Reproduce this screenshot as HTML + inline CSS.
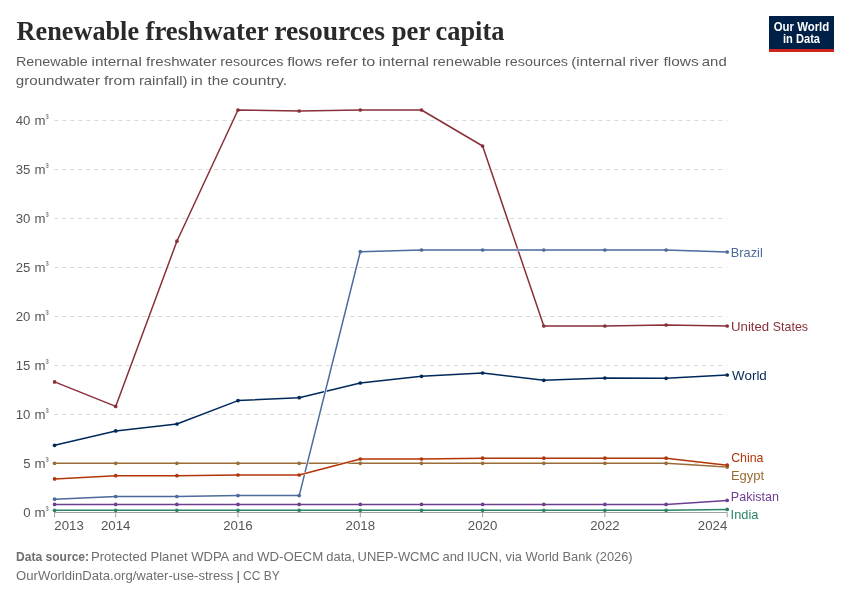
<!DOCTYPE html>
<html lang="en"><head><meta charset="utf-8"><title>Renewable freshwater resources per capita</title>
<style>
html,body{margin:0;padding:0;background:#fff;}
svg{display:block;}
text{font-family:"Liberation Sans",sans-serif;}
.title{font-family:"Liberation Serif",serif;font-weight:bold;font-size:27px;fill:#2a2a2a;}
.sub{font-size:13.3px;fill:#5b5b5b;}
.foot{font-size:13px;fill:#6e6e6e;}
.tick{font-size:13.2px;fill:#555;}
.lab{font-size:13px;}
</style></head><body>
<svg width="850" height="600" viewBox="0 0 850 600">
<rect width="850" height="600" fill="#fff"/>

<text class="title" y="40"><tspan x="16.6" textLength="122.44" lengthAdjust="spacingAndGlyphs">Renewable</tspan> <tspan x="145.5" textLength="122.73" lengthAdjust="spacingAndGlyphs">freshwater</tspan> <tspan x="274.15" textLength="110.93" lengthAdjust="spacingAndGlyphs">resources</tspan> <tspan x="391.7" textLength="38.14" lengthAdjust="spacingAndGlyphs">per</tspan> <tspan x="435.55" textLength="68.79" lengthAdjust="spacingAndGlyphs">capita</tspan></text>
<text class="sub" y="66.2"><tspan x="15.95" textLength="71.83" lengthAdjust="spacingAndGlyphs">Renewable</tspan> <tspan x="91.55" textLength="50.27" lengthAdjust="spacingAndGlyphs">internal</tspan> <tspan x="146.1" textLength="70.32" lengthAdjust="spacingAndGlyphs">freshwater</tspan> <tspan x="220.15" textLength="63.2" lengthAdjust="spacingAndGlyphs">resources</tspan> <tspan x="287.15" textLength="35.21" lengthAdjust="spacingAndGlyphs">flows</tspan> <tspan x="325.95" textLength="32.0" lengthAdjust="spacingAndGlyphs">refer</tspan> <tspan x="361.85" textLength="13.49" lengthAdjust="spacingAndGlyphs">to</tspan> <tspan x="378.75" textLength="50.16" lengthAdjust="spacingAndGlyphs">internal</tspan> <tspan x="432.65" textLength="68.66" lengthAdjust="spacingAndGlyphs">renewable</tspan> <tspan x="505.1" textLength="62.94" lengthAdjust="spacingAndGlyphs">resources</tspan> <tspan x="571.25" textLength="54.52" lengthAdjust="spacingAndGlyphs">(internal</tspan> <tspan x="629.6" textLength="29.27" lengthAdjust="spacingAndGlyphs">river</tspan> <tspan x="663.45" textLength="35.21" lengthAdjust="spacingAndGlyphs">flows</tspan> <tspan x="701.79" textLength="24.9" lengthAdjust="spacingAndGlyphs">and</tspan></text>
<text class="sub" y="84.6"><tspan x="15.8" textLength="84.22" lengthAdjust="spacingAndGlyphs">groundwater</tspan> <tspan x="104.0" textLength="31.33" lengthAdjust="spacingAndGlyphs">from</tspan> <tspan x="138.9" textLength="48.67" lengthAdjust="spacingAndGlyphs">rainfall)</tspan> <tspan x="190.87" textLength="11.9" lengthAdjust="spacingAndGlyphs">in</tspan> <tspan x="207.45" textLength="21.19" lengthAdjust="spacingAndGlyphs">the</tspan> <tspan x="232.35" textLength="54.73" lengthAdjust="spacingAndGlyphs">country.</tspan></text>
<g><rect x="769" y="16" width="65" height="36" fill="#002147"/><rect x="769" y="49" width="65" height="3" fill="#ce261e"/>
<text x="801.5" y="31.1" text-anchor="middle" font-size="12" font-weight="bold" fill="#fff" textLength="55.5" lengthAdjust="spacingAndGlyphs">Our World</text>
<text x="801.5" y="43.1" text-anchor="middle" font-size="12" font-weight="bold" fill="#fff" textLength="37" lengthAdjust="spacingAndGlyphs">in Data</text></g>
<g stroke="#dadada" stroke-width="1" stroke-dasharray="4.2 3.8" fill="none">
<line x1="54.3" x2="727.3" y1="463.5" y2="463.5"/>
<line x1="54.3" x2="727.3" y1="414.5" y2="414.5"/>
<line x1="54.3" x2="727.3" y1="365.5" y2="365.5"/>
<line x1="54.3" x2="727.3" y1="316.5" y2="316.5"/>
<line x1="54.3" x2="727.3" y1="267.5" y2="267.5"/>
<line x1="54.3" x2="727.3" y1="218.5" y2="218.5"/>
<line x1="54.3" x2="727.3" y1="169.5" y2="169.5"/>
<line x1="54.3" x2="727.3" y1="120.5" y2="120.5"/>
</g>
<text class="tick" x="48.9" y="517.2" text-anchor="end" letter-spacing="0.15">0 m<tspan font-size="9.5" dy="-4.6">³</tspan></text>
<text class="tick" x="48.9" y="468.2" text-anchor="end" letter-spacing="0.15">5 m<tspan font-size="9.5" dy="-4.6">³</tspan></text>
<text class="tick" x="48.9" y="419.2" text-anchor="end" letter-spacing="0.15">10 m<tspan font-size="9.5" dy="-4.6">³</tspan></text>
<text class="tick" x="48.9" y="370.2" text-anchor="end" letter-spacing="0.15">15 m<tspan font-size="9.5" dy="-4.6">³</tspan></text>
<text class="tick" x="48.9" y="321.2" text-anchor="end" letter-spacing="0.15">20 m<tspan font-size="9.5" dy="-4.6">³</tspan></text>
<text class="tick" x="48.9" y="272.2" text-anchor="end" letter-spacing="0.15">25 m<tspan font-size="9.5" dy="-4.6">³</tspan></text>
<text class="tick" x="48.9" y="223.2" text-anchor="end" letter-spacing="0.15">30 m<tspan font-size="9.5" dy="-4.6">³</tspan></text>
<text class="tick" x="48.9" y="174.2" text-anchor="end" letter-spacing="0.15">35 m<tspan font-size="9.5" dy="-4.6">³</tspan></text>
<text class="tick" x="48.9" y="125.2" text-anchor="end" letter-spacing="0.15">40 m<tspan font-size="9.5" dy="-4.6">³</tspan></text>
<g stroke="#a0a0a0" stroke-width="1" fill="none">
<line x1="54.3" x2="727.3" y1="512.5" y2="512.5"/>
<line x1="54.6" x2="54.6" y1="512.5" y2="517.3"/>
<line x1="115.7" x2="115.7" y1="512.5" y2="517.3"/>
<line x1="238.0" x2="238.0" y1="512.5" y2="517.3"/>
<line x1="360.3" x2="360.3" y1="512.5" y2="517.3"/>
<line x1="482.6" x2="482.6" y1="512.5" y2="517.3"/>
<line x1="604.9" x2="604.9" y1="512.5" y2="517.3"/>
<line x1="727.2" x2="727.2" y1="512.5" y2="517.3"/>
</g>
<text class="tick" x="54.3" y="530.3" text-anchor="start" textLength="29.5" lengthAdjust="spacingAndGlyphs">2013</text>
<text class="tick" x="115.7" y="530.3" text-anchor="middle" textLength="29.5" lengthAdjust="spacingAndGlyphs">2014</text>
<text class="tick" x="238.0" y="530.3" text-anchor="middle" textLength="29.5" lengthAdjust="spacingAndGlyphs">2016</text>
<text class="tick" x="360.3" y="530.3" text-anchor="middle" textLength="29.5" lengthAdjust="spacingAndGlyphs">2018</text>
<text class="tick" x="482.6" y="530.3" text-anchor="middle" textLength="29.5" lengthAdjust="spacingAndGlyphs">2020</text>
<text class="tick" x="604.9" y="530.3" text-anchor="middle" textLength="29.5" lengthAdjust="spacingAndGlyphs">2022</text>
<text class="tick" x="727.3" y="530.3" text-anchor="end" textLength="29.5" lengthAdjust="spacingAndGlyphs">2024</text>
<g fill="#2C8465" stroke="none"><polyline points="54.6,510.3 115.7,510.3 176.9,510.3 238.0,510.3 299.2,510.3 360.3,510.3 421.5,510.3 482.6,510.3 543.8,510.3 604.9,510.3 666.1,510.3 727.2,509.4" fill="none" stroke="#fff" stroke-width="2.5" stroke-linejoin="round" stroke-linecap="butt"/><polyline points="54.6,510.3 115.7,510.3 176.9,510.3 238.0,510.3 299.2,510.3 360.3,510.3 421.5,510.3 482.6,510.3 543.8,510.3 604.9,510.3 666.1,510.3 727.2,509.4" fill="none" stroke="#2C8465" stroke-width="1.5" stroke-linejoin="round" stroke-linecap="round"/>
<circle cx="54.6" cy="510.3" r="1.85"/>
<circle cx="115.7" cy="510.3" r="1.85"/>
<circle cx="176.9" cy="510.3" r="1.85"/>
<circle cx="238.0" cy="510.3" r="1.85"/>
<circle cx="299.2" cy="510.3" r="1.85"/>
<circle cx="360.3" cy="510.3" r="1.85"/>
<circle cx="421.5" cy="510.3" r="1.85"/>
<circle cx="482.6" cy="510.3" r="1.85"/>
<circle cx="543.8" cy="510.3" r="1.85"/>
<circle cx="604.9" cy="510.3" r="1.85"/>
<circle cx="666.1" cy="510.3" r="1.85"/>
<circle cx="727.2" cy="509.4" r="1.85"/>
</g>
<g fill="#6D3E91" stroke="none"><polyline points="54.6,504.4 115.7,504.4 176.9,504.4 238.0,504.4 299.2,504.4 360.3,504.4 421.5,504.4 482.6,504.4 543.8,504.4 604.9,504.4 666.1,504.4 727.2,500.4" fill="none" stroke="#fff" stroke-width="2.5" stroke-linejoin="round" stroke-linecap="butt"/><polyline points="54.6,504.4 115.7,504.4 176.9,504.4 238.0,504.4 299.2,504.4 360.3,504.4 421.5,504.4 482.6,504.4 543.8,504.4 604.9,504.4 666.1,504.4 727.2,500.4" fill="none" stroke="#6D3E91" stroke-width="1.5" stroke-linejoin="round" stroke-linecap="round"/>
<circle cx="54.6" cy="504.4" r="1.85"/>
<circle cx="115.7" cy="504.4" r="1.85"/>
<circle cx="176.9" cy="504.4" r="1.85"/>
<circle cx="238.0" cy="504.4" r="1.85"/>
<circle cx="299.2" cy="504.4" r="1.85"/>
<circle cx="360.3" cy="504.4" r="1.85"/>
<circle cx="421.5" cy="504.4" r="1.85"/>
<circle cx="482.6" cy="504.4" r="1.85"/>
<circle cx="543.8" cy="504.4" r="1.85"/>
<circle cx="604.9" cy="504.4" r="1.85"/>
<circle cx="666.1" cy="504.4" r="1.85"/>
<circle cx="727.2" cy="500.4" r="1.85"/>
</g>
<g fill="#996D39" stroke="none"><polyline points="54.6,463.3 115.7,463.3 176.9,463.3 238.0,463.3 299.2,463.3 360.3,463.3 421.5,463.3 482.6,463.3 543.8,463.3 604.9,463.3 666.1,463.3 727.2,467.1" fill="none" stroke="#fff" stroke-width="2.5" stroke-linejoin="round" stroke-linecap="butt"/><polyline points="54.6,463.3 115.7,463.3 176.9,463.3 238.0,463.3 299.2,463.3 360.3,463.3 421.5,463.3 482.6,463.3 543.8,463.3 604.9,463.3 666.1,463.3 727.2,467.1" fill="none" stroke="#996D39" stroke-width="1.5" stroke-linejoin="round" stroke-linecap="round"/>
<circle cx="54.6" cy="463.3" r="1.85"/>
<circle cx="115.7" cy="463.3" r="1.85"/>
<circle cx="176.9" cy="463.3" r="1.85"/>
<circle cx="238.0" cy="463.3" r="1.85"/>
<circle cx="299.2" cy="463.3" r="1.85"/>
<circle cx="360.3" cy="463.3" r="1.85"/>
<circle cx="421.5" cy="463.3" r="1.85"/>
<circle cx="482.6" cy="463.3" r="1.85"/>
<circle cx="543.8" cy="463.3" r="1.85"/>
<circle cx="604.9" cy="463.3" r="1.85"/>
<circle cx="666.1" cy="463.3" r="1.85"/>
<circle cx="727.2" cy="467.1" r="1.85"/>
</g>
<g fill="#00295B" stroke="none"><polyline points="54.6,445.3 115.7,430.9 176.9,424.0 238.0,400.6 299.2,397.7 360.3,383.0 421.5,376.3 482.6,373.0 543.8,380.3 604.9,378.0 666.1,378.3 727.2,375.0" fill="none" stroke="#fff" stroke-width="2.5" stroke-linejoin="round" stroke-linecap="butt"/><polyline points="54.6,445.3 115.7,430.9 176.9,424.0 238.0,400.6 299.2,397.7 360.3,383.0 421.5,376.3 482.6,373.0 543.8,380.3 604.9,378.0 666.1,378.3 727.2,375.0" fill="none" stroke="#00295B" stroke-width="1.5" stroke-linejoin="round" stroke-linecap="round"/>
<circle cx="54.6" cy="445.3" r="1.85"/>
<circle cx="115.7" cy="430.9" r="1.85"/>
<circle cx="176.9" cy="424.0" r="1.85"/>
<circle cx="238.0" cy="400.6" r="1.85"/>
<circle cx="299.2" cy="397.7" r="1.85"/>
<circle cx="360.3" cy="383.0" r="1.85"/>
<circle cx="421.5" cy="376.3" r="1.85"/>
<circle cx="482.6" cy="373.0" r="1.85"/>
<circle cx="543.8" cy="380.3" r="1.85"/>
<circle cx="604.9" cy="378.0" r="1.85"/>
<circle cx="666.1" cy="378.3" r="1.85"/>
<circle cx="727.2" cy="375.0" r="1.85"/>
</g>
<g fill="#883039" stroke="none"><polyline points="54.6,381.9 115.7,406.4 176.9,241.2 238.0,110.0 299.2,111.0 360.3,110.0 421.5,110.0 482.6,146.0 543.8,326.0 604.9,326.0 666.1,325.0 727.2,326.0" fill="none" stroke="#fff" stroke-width="2.5" stroke-linejoin="round" stroke-linecap="butt"/><polyline points="54.6,381.9 115.7,406.4 176.9,241.2 238.0,110.0 299.2,111.0 360.3,110.0 421.5,110.0 482.6,146.0 543.8,326.0 604.9,326.0 666.1,325.0 727.2,326.0" fill="none" stroke="#883039" stroke-width="1.5" stroke-linejoin="round" stroke-linecap="round"/>
<circle cx="54.6" cy="381.9" r="1.85"/>
<circle cx="115.7" cy="406.4" r="1.85"/>
<circle cx="176.9" cy="241.2" r="1.85"/>
<circle cx="238.0" cy="110.0" r="1.85"/>
<circle cx="299.2" cy="111.0" r="1.85"/>
<circle cx="360.3" cy="110.0" r="1.85"/>
<circle cx="421.5" cy="110.0" r="1.85"/>
<circle cx="482.6" cy="146.0" r="1.85"/>
<circle cx="543.8" cy="326.0" r="1.85"/>
<circle cx="604.9" cy="326.0" r="1.85"/>
<circle cx="666.1" cy="325.0" r="1.85"/>
<circle cx="727.2" cy="326.0" r="1.85"/>
</g>
<g fill="#4C6A9C" stroke="none"><polyline points="54.6,499.2 115.7,496.5 176.9,496.5 238.0,495.6 299.2,495.6 360.3,251.7 421.5,250.0 482.6,250.0 543.8,250.0 604.9,250.0 666.1,250.0 727.2,252.0" fill="none" stroke="#fff" stroke-width="2.5" stroke-linejoin="round" stroke-linecap="butt"/><polyline points="54.6,499.2 115.7,496.5 176.9,496.5 238.0,495.6 299.2,495.6 360.3,251.7 421.5,250.0 482.6,250.0 543.8,250.0 604.9,250.0 666.1,250.0 727.2,252.0" fill="none" stroke="#4C6A9C" stroke-width="1.5" stroke-linejoin="round" stroke-linecap="round"/>
<circle cx="54.6" cy="499.2" r="1.85"/>
<circle cx="115.7" cy="496.5" r="1.85"/>
<circle cx="176.9" cy="496.5" r="1.85"/>
<circle cx="238.0" cy="495.6" r="1.85"/>
<circle cx="299.2" cy="495.6" r="1.85"/>
<circle cx="360.3" cy="251.7" r="1.85"/>
<circle cx="421.5" cy="250.0" r="1.85"/>
<circle cx="482.6" cy="250.0" r="1.85"/>
<circle cx="543.8" cy="250.0" r="1.85"/>
<circle cx="604.9" cy="250.0" r="1.85"/>
<circle cx="666.1" cy="250.0" r="1.85"/>
<circle cx="727.2" cy="252.0" r="1.85"/>
</g>
<g fill="#B13507" stroke="none"><polyline points="54.6,478.9 115.7,475.7 176.9,475.7 238.0,475.0 299.2,475.0 360.3,459.0 421.5,459.0 482.6,458.2 543.8,458.2 604.9,458.2 666.1,458.2 727.2,465.2" fill="none" stroke="#fff" stroke-width="2.5" stroke-linejoin="round" stroke-linecap="butt"/><polyline points="54.6,478.9 115.7,475.7 176.9,475.7 238.0,475.0 299.2,475.0 360.3,459.0 421.5,459.0 482.6,458.2 543.8,458.2 604.9,458.2 666.1,458.2 727.2,465.2" fill="none" stroke="#B13507" stroke-width="1.5" stroke-linejoin="round" stroke-linecap="round"/>
<circle cx="54.6" cy="478.9" r="1.85"/>
<circle cx="115.7" cy="475.7" r="1.85"/>
<circle cx="176.9" cy="475.7" r="1.85"/>
<circle cx="238.0" cy="475.0" r="1.85"/>
<circle cx="299.2" cy="475.0" r="1.85"/>
<circle cx="360.3" cy="459.0" r="1.85"/>
<circle cx="421.5" cy="459.0" r="1.85"/>
<circle cx="482.6" cy="458.2" r="1.85"/>
<circle cx="543.8" cy="458.2" r="1.85"/>
<circle cx="604.9" cy="458.2" r="1.85"/>
<circle cx="666.1" cy="458.2" r="1.85"/>
<circle cx="727.2" cy="465.2" r="1.85"/>
</g>
<text class="lab" y="256.5" fill="#4C6A9C"><tspan x="730.86" textLength="31.91" lengthAdjust="spacingAndGlyphs">Brazil</tspan></text>
<text class="lab" y="330.8" fill="#883039"><tspan x="731.05" textLength="38.13" lengthAdjust="spacingAndGlyphs">United</tspan> <tspan x="772.79" textLength="35.22" lengthAdjust="spacingAndGlyphs">States</tspan></text>
<text class="lab" y="379.9" fill="#00295B"><tspan x="732.1" textLength="34.72" lengthAdjust="spacingAndGlyphs">World</tspan></text>
<text class="lab" y="461.6" fill="#B13507"><tspan x="731.2" textLength="32.31" lengthAdjust="spacingAndGlyphs">China</tspan></text>
<text class="lab" y="480.2" fill="#996D39"><tspan x="730.94" textLength="33.21" lengthAdjust="spacingAndGlyphs">Egypt</tspan></text>
<text class="lab" y="500.8" fill="#6D3E91"><tspan x="730.85" textLength="48.01" lengthAdjust="spacingAndGlyphs">Pakistan</tspan></text>
<text class="lab" y="519.2" fill="#2C8465"><tspan x="730.59" textLength="27.85" lengthAdjust="spacingAndGlyphs">India</tspan></text>
<text class="foot" y="561.1" font-weight="bold"><tspan x="16.1" textLength="72.98" lengthAdjust="spacingAndGlyphs">Data source:</tspan></text>
<text class="foot" y="561.1"><tspan x="91.05" textLength="137.55" lengthAdjust="spacingAndGlyphs">Protected Planet WDPA</tspan> <tspan x="232.15" textLength="21.4" lengthAdjust="spacingAndGlyphs">and</tspan> <tspan x="256.95" textLength="66.31" lengthAdjust="spacingAndGlyphs">WD-OECM</tspan> <tspan x="326.2" textLength="28.9" lengthAdjust="spacingAndGlyphs">data,</tspan> <tspan x="357.6" textLength="82.02" lengthAdjust="spacingAndGlyphs">UNEP-WCMC</tspan> <tspan x="442.45" textLength="21.63" lengthAdjust="spacingAndGlyphs">and</tspan> <tspan x="466.95" textLength="165.72" lengthAdjust="spacingAndGlyphs">IUCN, via World Bank (2026)</tspan></text>
<text class="foot" y="580.4"><tspan x="16.1" textLength="217.35" lengthAdjust="spacingAndGlyphs">OurWorldinData.org/water-use-stress</tspan> <tspan x="236.2" textLength="4.08" lengthAdjust="spacingAndGlyphs">|</tspan> <tspan x="243.06" textLength="17.38" lengthAdjust="spacingAndGlyphs">CC</tspan> <tspan x="263.77" textLength="15.98" lengthAdjust="spacingAndGlyphs">BY</tspan></text>
</svg></body></html>
